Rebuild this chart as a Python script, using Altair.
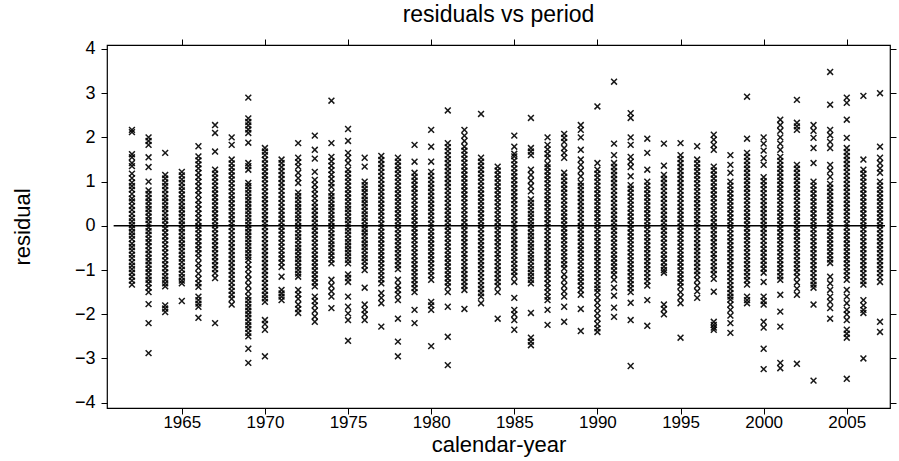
import altair as alt
import pandas as pd

# residuals per calendar year
r1962 = [2.17, 2.12, 1.62, 1.55, 1.42, 1.35, 1.18, 1.08, 0.98, 0.9, 0.82, 0.72, 0.62, 0.55, 0.45, 0.36, 0.27, 0.18, 0.1, 0.02, -0.06, -0.14, -0.22, -0.3, -0.4, -0.48, -0.56, -0.65, -0.73, -0.82, -0.9, -0.98, -1.06, -1.15, -1.24, -1.33]
r1963 = [2.0, 1.92, 1.83, 1.55, 1.33, 1.0, 0.8, 0.72, 0.63, 0.55, 0.46, 0.38, 0.3, 0.21, 0.13, 0.05, -0.04, -0.12, -0.2, -0.29, -0.37, -0.46, -0.55, -0.63, -0.72, -0.8, -0.88, -0.97, -1.05, -1.14, -1.22, -1.3, -1.4, -1.5, -1.77, -2.2, -2.88]
r1964 = [1.65, 1.15, 1.07, 0.98, 0.9, 0.81, 0.72, 0.63, 0.55, 0.46, 0.38, 0.29, 0.2, 0.12, 0.03, -0.06, -0.15, -0.24, -0.33, -0.42, -0.51, -0.6, -0.69, -0.78, -0.87, -0.96, -1.05, -1.14, -1.22, -1.3, -1.37, -1.8, -1.87, -1.95]
r1965 = [1.22, 1.14, 1.05, 0.97, 0.88, 0.8, 0.71, 0.62, 0.54, 0.45, 0.37, 0.28, 0.2, 0.11, 0.03, -0.06, -0.14, -0.23, -0.31, -0.4, -0.48, -0.57, -0.65, -0.74, -0.82, -0.91, -0.99, -1.08, -1.16, -1.24, -1.3, -1.7]
r1966 = [1.8, 1.57, 1.48, 1.39, 1.3, 1.2, 1.1, 1.0, 0.9, 0.8, 0.7, 0.58, 0.48, 0.38, 0.28, 0.18, 0.09, 0.0, -0.08, -0.17, -0.26, -0.35, -0.44, -0.53, -0.62, -0.72, -0.85, -0.95, -1.08, -1.2, -1.3, -1.38, -1.6, -1.68, -1.76, -1.83, -2.08]
r1967 = [2.28, 2.1, 1.68, 1.27, 1.18, 1.09, 1.0, 0.91, 0.82, 0.73, 0.64, 0.55, 0.46, 0.37, 0.28, 0.19, 0.1, 0.01, -0.08, -0.17, -0.26, -0.35, -0.44, -0.53, -0.62, -0.71, -0.8, -0.89, -0.98, -1.07, -1.18, -2.2]
r1968 = [2.0, 1.83, 1.5, 1.41, 1.32, 1.23, 1.14, 1.05, 0.96, 0.87, 0.78, 0.69, 0.6, 0.51, 0.42, 0.33, 0.24, 0.15, 0.06, -0.03, -0.12, -0.21, -0.3, -0.39, -0.48, -0.57, -0.66, -0.75, -0.84, -0.93, -1.02, -1.11, -1.2, -1.29, -1.38, -1.47, -1.56, -1.65, -1.78]
r1969 = [2.9, 2.43, 2.35, 2.27, 2.18, 2.1, 1.88, 1.42, 1.35, 1.27, 0.97, 0.9, 0.82, 0.74, 0.66, 0.58, 0.5, 0.42, 0.34, 0.26, 0.18, 0.1, 0.02, -0.06, -0.14, -0.22, -0.3, -0.38, -0.46, -0.54, -0.62, -0.7, -0.77, -0.88, -0.98, -1.1, -1.22, -1.35, -1.48, -1.6, -1.68, -1.76, -1.84, -1.92, -2.0, -2.08, -2.17, -2.25, -2.33, -2.42, -2.5, -2.78, -3.1]
r1970 = [1.76, 1.68, 1.6, 1.5, 1.41, 1.32, 1.23, 1.14, 1.05, 0.96, 0.87, 0.78, 0.69, 0.6, 0.51, 0.42, 0.33, 0.24, 0.15, 0.06, -0.03, -0.12, -0.21, -0.3, -0.39, -0.48, -0.57, -0.66, -0.75, -0.84, -0.93, -1.02, -1.11, -1.2, -1.29, -1.38, -1.47, -1.56, -1.64, -1.72, -2.13, -2.22, -2.35, -2.95]
r1971 = [1.5, 1.42, 1.33, 1.24, 1.15, 1.06, 0.97, 0.88, 0.79, 0.7, 0.61, 0.52, 0.43, 0.34, 0.25, 0.16, 0.07, -0.02, -0.11, -0.2, -0.29, -0.38, -0.47, -0.56, -0.65, -0.74, -0.83, -0.93, -1.15, -1.45, -1.53, -1.6, -1.68]
r1972 = [1.87, 1.54, 1.44, 1.34, 1.2, 1.08, 0.97, 0.75, 0.67, 0.59, 0.5, 0.42, 0.34, 0.25, 0.17, 0.09, 0.0, -0.08, -0.17, -0.25, -0.33, -0.42, -0.5, -0.58, -0.67, -0.75, -0.83, -0.92, -1.0, -1.08, -1.15, -1.45, -1.55, -1.65, -1.78, -1.88, -1.97]
r1973 = [2.04, 1.72, 1.52, 1.22, 1.04, 0.93, 0.82, 0.72, 0.62, 0.52, 0.43, 0.34, 0.25, 0.16, 0.07, -0.02, -0.11, -0.2, -0.29, -0.38, -0.47, -0.56, -0.65, -0.74, -0.83, -0.92, -1.01, -1.1, -1.19, -1.28, -1.37, -1.6, -1.7, -1.8, -1.92, -2.05, -2.17]
r1974 = [2.83, 1.87, 1.56, 1.46, 1.36, 1.26, 1.16, 1.06, 0.96, 0.88, 0.75, 0.67, 0.59, 0.5, 0.42, 0.34, 0.25, 0.17, 0.08, 0.0, -0.08, -0.17, -0.25, -0.34, -0.42, -0.5, -0.59, -0.67, -0.76, -0.85, -1.22, -1.35, -1.48, -1.6, -1.86]
r1975 = [2.19, 1.92, 1.65, 1.54, 1.42, 1.27, 1.18, 1.09, 1.0, 0.91, 0.82, 0.73, 0.64, 0.55, 0.46, 0.38, 0.3, 0.21, 0.13, 0.05, -0.04, -0.12, -0.2, -0.29, -0.37, -0.45, -0.53, -0.61, -0.69, -0.77, -0.85, -1.1, -1.18, -1.27, -1.6, -1.83, -1.98, -2.13, -2.6]
r1976 = [1.54, 1.34, 1.0, 0.92, 0.84, 0.76, 0.67, 0.59, 0.51, 0.43, 0.34, 0.26, 0.18, 0.1, 0.01, -0.07, -0.15, -0.23, -0.32, -0.4, -0.48, -0.56, -0.65, -0.73, -0.81, -0.9, -1.0, -1.4, -1.78, -1.9, -2.0, -2.13]
r1977 = [1.58, 1.49, 1.4, 1.31, 1.22, 1.13, 1.04, 0.95, 0.86, 0.77, 0.68, 0.59, 0.5, 0.41, 0.32, 0.23, 0.14, 0.05, -0.04, -0.13, -0.22, -0.31, -0.4, -0.49, -0.58, -0.67, -0.76, -0.85, -0.94, -1.03, -1.12, -1.21, -1.3, -1.52, -1.63, -1.75, -2.28]
r1978 = [1.54, 1.45, 1.36, 1.27, 1.18, 1.09, 1.0, 0.91, 0.82, 0.73, 0.64, 0.55, 0.46, 0.37, 0.28, 0.19, 0.1, 0.01, -0.08, -0.17, -0.26, -0.35, -0.44, -0.53, -0.62, -0.71, -0.8, -0.89, -0.98, -1.22, -1.35, -1.45, -1.55, -1.68, -2.1, -2.62, -2.95]
r1979 = [1.83, 1.45, 1.2, 1.11, 1.02, 0.93, 0.84, 0.75, 0.66, 0.57, 0.48, 0.39, 0.3, 0.21, 0.12, 0.03, -0.06, -0.15, -0.24, -0.33, -0.42, -0.51, -0.6, -0.69, -0.78, -0.87, -0.96, -1.05, -1.14, -1.23, -1.32, -1.41, -1.5, -1.9, -2.2]
r1980 = [2.17, 1.79, 1.45, 1.22, 1.13, 1.04, 0.95, 0.86, 0.77, 0.68, 0.59, 0.5, 0.41, 0.32, 0.23, 0.14, 0.05, -0.04, -0.13, -0.22, -0.31, -0.4, -0.49, -0.58, -0.67, -0.76, -0.85, -0.94, -1.03, -1.12, -1.22, -1.72, -1.8, -1.9, -2.72]
r1981 = [2.61, 1.87, 1.78, 1.69, 1.6, 1.51, 1.42, 1.33, 1.24, 1.15, 1.06, 0.97, 0.88, 0.79, 0.7, 0.61, 0.52, 0.43, 0.34, 0.25, 0.16, 0.07, -0.02, -0.11, -0.2, -0.29, -0.38, -0.47, -0.56, -0.65, -0.74, -0.83, -0.92, -1.01, -1.1, -1.19, -1.28, -1.37, -1.5, -1.83, -2.51, -3.15]
r1982 = [2.17, 2.04, 1.92, 1.79, 1.7, 1.61, 1.52, 1.43, 1.34, 1.25, 1.16, 1.07, 0.98, 0.89, 0.8, 0.71, 0.62, 0.53, 0.44, 0.35, 0.26, 0.17, 0.08, -0.01, -0.1, -0.19, -0.28, -0.37, -0.46, -0.55, -0.64, -0.73, -0.82, -0.91, -1.0, -1.09, -1.18, -1.27, -1.36, -1.45, -1.88]
r1983 = [2.53, 1.54, 1.45, 1.36, 1.27, 1.18, 1.09, 1.0, 0.91, 0.82, 0.73, 0.64, 0.55, 0.46, 0.37, 0.28, 0.19, 0.1, 0.01, -0.08, -0.17, -0.26, -0.35, -0.44, -0.53, -0.62, -0.71, -0.8, -0.89, -0.98, -1.07, -1.16, -1.25, -1.34, -1.43, -1.52, -1.6, -1.75]
r1984 = [1.34, 1.25, 1.16, 1.07, 0.98, 0.89, 0.8, 0.71, 0.62, 0.53, 0.44, 0.35, 0.26, 0.17, 0.08, -0.01, -0.1, -0.19, -0.28, -0.37, -0.46, -0.55, -0.64, -0.73, -0.82, -0.91, -1.0, -1.09, -1.18, -1.27, -1.36, -1.5, -2.1]
r1985 = [2.04, 1.79, 1.63, 1.57, 1.48, 1.39, 1.3, 1.21, 1.12, 1.03, 0.94, 0.85, 0.76, 0.67, 0.58, 0.49, 0.4, 0.31, 0.22, 0.13, 0.04, -0.05, -0.14, -0.23, -0.32, -0.41, -0.5, -0.59, -0.68, -0.77, -0.86, -0.95, -1.04, -1.13, -1.27, -1.63, -1.9, -2.0, -2.13, -2.35]
r1986 = [2.44, 1.76, 1.68, 1.6, 1.27, 1.15, 1.02, 0.9, 0.78, 0.6, 0.52, 0.44, 0.35, 0.27, 0.19, 0.1, 0.02, -0.06, -0.15, -0.23, -0.31, -0.4, -0.48, -0.56, -0.65, -0.73, -0.81, -0.9, -0.98, -1.06, -1.14, -1.22, -1.3, -1.97, -2.53, -2.62, -2.7]
r1987 = [2.0, 1.83, 1.73, 1.63, 1.54, 1.4, 1.32, 1.23, 1.14, 1.05, 0.96, 0.87, 0.78, 0.69, 0.6, 0.51, 0.42, 0.33, 0.24, 0.15, 0.06, -0.03, -0.12, -0.21, -0.3, -0.39, -0.48, -0.57, -0.66, -0.75, -0.84, -0.93, -1.02, -1.11, -1.2, -1.3, -1.4, -1.5, -1.6, -1.68, -1.9, -2.24]
r1988 = [2.08, 1.99, 1.9, 1.76, 1.65, 1.54, 1.2, 1.11, 1.02, 0.93, 0.84, 0.75, 0.66, 0.57, 0.48, 0.39, 0.3, 0.21, 0.12, 0.03, -0.06, -0.15, -0.24, -0.33, -0.42, -0.51, -0.6, -0.69, -0.78, -0.87, -0.96, -1.1, -1.22, -1.35, -1.48, -1.6, -1.83, -2.17]
r1989 = [2.28, 2.17, 2.0, 1.72, 1.5, 1.38, 1.25, 1.12, 0.98, 0.9, 0.81, 0.72, 0.63, 0.54, 0.45, 0.36, 0.27, 0.18, 0.09, 0.0, -0.09, -0.18, -0.27, -0.36, -0.45, -0.54, -0.63, -0.72, -0.81, -0.9, -0.99, -1.08, -1.17, -1.26, -1.35, -1.45, -1.56, -1.88, -2.38]
r1990 = [2.7, 1.42, 1.27, 1.18, 1.09, 1.0, 0.91, 0.82, 0.73, 0.64, 0.55, 0.46, 0.37, 0.28, 0.19, 0.1, 0.01, -0.08, -0.17, -0.26, -0.35, -0.44, -0.53, -0.62, -0.71, -0.8, -0.89, -0.98, -1.07, -1.16, -1.25, -1.34, -1.42, -1.5, -1.62, -1.74, -1.86, -1.98, -2.1, -2.22, -2.32, -2.4]
r1991 = [3.26, 1.86, 1.6, 1.42, 1.33, 1.24, 1.15, 1.06, 0.97, 0.88, 0.79, 0.7, 0.61, 0.52, 0.43, 0.34, 0.25, 0.16, 0.07, -0.02, -0.11, -0.2, -0.29, -0.38, -0.47, -0.56, -0.65, -0.74, -0.83, -0.92, -1.01, -1.1, -1.22, -1.4, -1.58, -1.85, -2.06]
r1992 = [2.55, 2.44, 2.0, 1.83, 1.56, 1.45, 1.33, 1.12, 0.92, 0.84, 0.75, 0.66, 0.57, 0.48, 0.39, 0.3, 0.21, 0.12, 0.03, -0.06, -0.15, -0.24, -0.33, -0.42, -0.51, -0.6, -0.69, -0.78, -0.87, -0.96, -1.05, -1.14, -1.23, -1.32, -1.41, -1.5, -1.74, -2.13, -3.17]
r1993 = [1.97, 1.65, 1.27, 1.0, 0.91, 0.82, 0.73, 0.64, 0.55, 0.46, 0.37, 0.28, 0.19, 0.1, 0.01, -0.08, -0.17, -0.26, -0.35, -0.44, -0.53, -0.62, -0.71, -0.8, -0.89, -0.98, -1.07, -1.16, -1.25, -1.35, -1.68, -2.26]
r1994 = [1.86, 1.36, 1.15, 1.06, 0.97, 0.88, 0.79, 0.7, 0.61, 0.52, 0.43, 0.34, 0.25, 0.16, 0.07, -0.02, -0.11, -0.2, -0.29, -0.38, -0.47, -0.56, -0.65, -0.74, -0.83, -0.92, -1.0, -1.06, -1.78, -1.88, -2.0]
r1995 = [1.87, 1.6, 1.51, 1.42, 1.33, 1.24, 1.15, 1.06, 0.97, 0.88, 0.79, 0.7, 0.61, 0.52, 0.43, 0.34, 0.25, 0.16, 0.07, -0.02, -0.11, -0.2, -0.29, -0.38, -0.47, -0.56, -0.65, -0.74, -0.83, -0.92, -1.01, -1.1, -1.19, -1.28, -1.37, -1.5, -1.62, -1.75, -2.53]
r1996 = [1.8, 1.5, 1.41, 1.32, 1.23, 1.14, 1.05, 0.96, 0.87, 0.78, 0.69, 0.6, 0.51, 0.42, 0.33, 0.24, 0.15, 0.06, -0.03, -0.12, -0.21, -0.3, -0.39, -0.48, -0.57, -0.66, -0.75, -0.84, -0.93, -1.02, -1.11, -1.22, -1.35, -1.48, -1.63]
r1997 = [2.06, 1.95, 1.83, 1.72, 1.34, 1.25, 1.16, 1.07, 0.98, 0.89, 0.8, 0.71, 0.62, 0.53, 0.44, 0.35, 0.26, 0.17, 0.08, -0.01, -0.1, -0.19, -0.28, -0.37, -0.46, -0.55, -0.64, -0.73, -0.82, -0.91, -1.0, -1.09, -1.2, -1.49, -2.17, -2.24, -2.3, -2.35]
r1998 = [1.6, 1.38, 1.2, 1.0, 0.91, 0.82, 0.73, 0.64, 0.55, 0.46, 0.37, 0.28, 0.19, 0.1, 0.01, -0.08, -0.17, -0.26, -0.35, -0.44, -0.53, -0.62, -0.71, -0.8, -0.89, -0.98, -1.07, -1.16, -1.25, -1.34, -1.43, -1.52, -1.6, -1.67, -1.78, -1.9, -2.03, -2.2, -2.42]
r1999 = [2.92, 1.97, 1.65, 1.56, 1.47, 1.38, 1.29, 1.2, 1.11, 1.02, 0.93, 0.84, 0.75, 0.66, 0.57, 0.48, 0.39, 0.3, 0.21, 0.12, 0.03, -0.06, -0.15, -0.24, -0.33, -0.42, -0.51, -0.6, -0.69, -0.78, -0.87, -0.96, -1.05, -1.14, -1.23, -1.33, -1.6, -1.68, -1.75]
r2000 = [2.0, 1.86, 1.7, 1.53, 1.38, 1.1, 1.01, 0.92, 0.83, 0.74, 0.65, 0.56, 0.47, 0.38, 0.29, 0.2, 0.11, 0.02, -0.07, -0.16, -0.25, -0.34, -0.43, -0.52, -0.61, -0.7, -0.79, -0.88, -0.97, -1.06, -1.27, -1.6, -1.7, -1.78, -2.17, -2.3, -2.78, -3.24]
r2001 = [2.4, 2.28, 2.15, 2.0, 1.86, 1.72, 1.56, 1.47, 1.38, 1.29, 1.2, 1.11, 1.02, 0.93, 0.84, 0.75, 0.66, 0.57, 0.48, 0.39, 0.3, 0.21, 0.12, 0.03, -0.06, -0.15, -0.24, -0.33, -0.42, -0.51, -0.6, -0.69, -0.78, -0.87, -0.96, -1.05, -1.14, -1.22, -1.56, -1.94, -2.28, -3.1, -3.22]
r2002 = [2.85, 2.33, 2.25, 2.17, 1.38, 1.29, 1.2, 1.11, 1.02, 0.93, 0.84, 0.75, 0.66, 0.57, 0.48, 0.39, 0.3, 0.21, 0.12, 0.03, -0.06, -0.15, -0.24, -0.33, -0.42, -0.51, -0.6, -0.69, -0.78, -0.87, -0.96, -1.05, -1.15, -1.28, -1.42, -1.56, -3.12]
r2003 = [2.28, 2.15, 1.99, 1.76, 1.42, 1.0, 0.91, 0.82, 0.73, 0.64, 0.55, 0.46, 0.37, 0.28, 0.19, 0.1, 0.01, -0.08, -0.17, -0.26, -0.35, -0.44, -0.53, -0.62, -0.71, -0.8, -0.89, -0.98, -1.07, -1.16, -1.25, -1.33, -1.4, -1.78, -3.5]
r2004 = [3.48, 2.74, 2.17, 2.05, 1.9, 1.76, 1.38, 1.25, 1.11, 0.95, 0.86, 0.77, 0.68, 0.59, 0.5, 0.41, 0.32, 0.23, 0.14, 0.05, -0.04, -0.13, -0.22, -0.31, -0.4, -0.49, -0.58, -0.67, -0.76, -0.84, -1.15, -1.3, -1.45, -1.6, -1.72, -1.86, -2.1]
r2005 = [2.9, 2.78, 2.4, 1.99, 1.76, 1.67, 1.58, 1.49, 1.4, 1.31, 1.22, 1.13, 1.04, 0.95, 0.86, 0.77, 0.68, 0.59, 0.5, 0.41, 0.32, 0.23, 0.14, 0.05, -0.04, -0.13, -0.22, -0.31, -0.4, -0.49, -0.58, -0.67, -0.76, -0.85, -0.94, -1.03, -1.12, -1.22, -1.45, -1.6, -1.75, -1.9, -2.0, -2.13, -2.35, -2.44, -2.53, -3.46]
r2006 = [2.94, 1.5, 1.27, 1.18, 1.09, 1.0, 0.91, 0.82, 0.73, 0.64, 0.55, 0.46, 0.37, 0.28, 0.19, 0.1, 0.01, -0.08, -0.17, -0.26, -0.35, -0.44, -0.53, -0.62, -0.71, -0.8, -0.89, -0.98, -1.07, -1.16, -1.25, -1.33, -1.68, -1.8, -1.9, -1.97, -3.0]
r2007 = [3.0, 1.79, 1.54, 1.42, 1.3, 1.2, 1.0, 0.91, 0.82, 0.73, 0.64, 0.55, 0.46, 0.37, 0.28, 0.19, 0.1, 0.01, -0.08, -0.17, -0.26, -0.35, -0.44, -0.53, -0.62, -0.71, -0.8, -0.89, -0.98, -1.07, -1.16, -1.27, -2.17, -2.4]

years = list(range(1962, 2008))
series = [r1962, r1963, r1964, r1965, r1966, r1967, r1968, r1969, r1970, r1971,
          r1972, r1973, r1974, r1975, r1976, r1977, r1978, r1979, r1980, r1981,
          r1982, r1983, r1984, r1985, r1986, r1987, r1988, r1989, r1990, r1991,
          r1992, r1993, r1994, r1995, r1996, r1997, r1998, r1999, r2000, r2001,
          r2002, r2003, r2004, r2005, r2006, r2007]

x_ticks = [1965, 1970, 1975, 1980, 1985, 1990, 1995, 2000, 2005]
y_ticks = [-4, -3, -2, -1, 0, 1, 2, 3, 4]
zero_line = {"start": 1960.9, "end": 2007.3, "level": 0}

rows = [{"year": y, "residual": v} for y, vals in zip(years, series) for v in vals]
df = pd.DataFrame(rows)
zdf = pd.DataFrame([zero_line])

FONT = "Liberation Sans"
xs = alt.Scale(domain=[1960.5, 2007.6], nice=False, zero=False)
ys = alt.Scale(domain=[-4.12, 4.09], nice=False, zero=False)

common_axis = dict(domain=False, grid=False, tickColor="black", tickSize=6,
                   tickWidth=1, labelColor="black", labelFont=FONT,
                   titleFont=FONT, titleColor="black", titleFontWeight="normal")

xb = alt.Axis(orient="bottom", values=x_ticks, format="d", labelFontSize=17,
              labelPadding=0, title="calendar-year", titleFontSize=22,
              titlePadding=4, **common_axis)
yl = alt.Axis(orient="left", values=y_ticks, format="d", labelFontSize=18,
              labelPadding=6, title="residual", titleFontSize=22,
              titlePadding=40, **common_axis)
xt = alt.Axis(orient="top", values=x_ticks, labels=False, title=None, **common_axis)
yr = alt.Axis(orient="right", values=y_ticks, labels=False, title=None, **common_axis)

xshape = "M-1,-1L1,1M-1,1L1,-1"

points = alt.Chart(df).mark_point(
    shape=xshape, filled=False, size=34, stroke="#000000", strokeWidth=1.5, opacity=0.9
).encode(
    x=alt.X("year:Q", scale=xs, axis=xb),
    y=alt.Y("residual:Q", scale=ys, axis=yl),
)

rule = alt.Chart(zdf).mark_rule(color="black", strokeWidth=1.5).encode(
    x=alt.X("start:Q", scale=xs, axis=xt),
    x2="end:Q",
    y=alt.Y("level:Q", scale=ys, axis=yr),
)

chart = alt.layer(points, rule).resolve_axis(
    x="independent", y="independent"
).properties(
    width=783,
    height=363,
    padding={"left": 107, "top": 45, "right": 9, "bottom": 53},
    autosize=alt.AutoSizeParams(type="none"),
    title=alt.TitleParams("residuals vs period", font=FONT, fontSize=23,
                          fontWeight="normal", color="black", anchor="middle",
                          offset=12),
    background="white",
).configure_view(stroke="black", strokeWidth=1.2)

chart.save("out.html", embed_options={"renderer": "svg", "actions": False})
